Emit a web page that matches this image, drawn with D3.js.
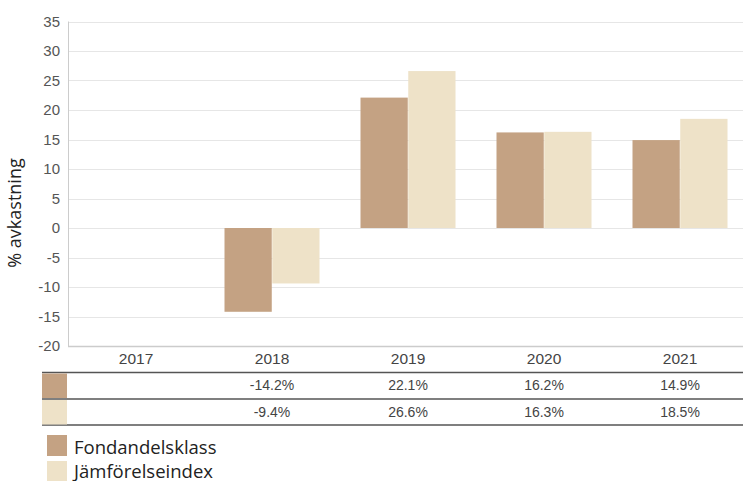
<!DOCTYPE html>
<html><head><meta charset="utf-8">
<script src="https://cdn.jsdelivr.net/npm/d3@7"></script>
<style>body{margin:0;background:#fff}svg{display:block}</style>
</head><body><svg id="c" width="744" height="481"></svg>
<script>
const categories = ["2017","2018","2019","2020","2021"];
const seriesNames = ["Fondandelsklass","Jämförelseindex"];
const fondValues = [null,-14.2,22.1,16.2,14.9];
const indexValues = [null,-9.4,26.6,16.3,18.5];
const yTicks = [-20,-15,-10,-5,0,5,10,15,20,25,30,35];
const colors = ["#c4a283","#eee2c8"];

const svg = d3.select("#c");
const plotL = 68, plotR = 743, plotT = 21.5, plotB = 346;
const y = d3.scaleLinear().domain([-20,35]).range([plotB, plotT]);
const x = d3.scaleBand().domain(categories).range([68, 748]);
const sub = d3.scaleBand().domain(seriesNames).range([0, 95]).paddingInner(0.01);
const series = [fondValues, indexValues];

// gridlines
svg.append("g").selectAll("line").data(yTicks.filter(d=>d>-20)).join("line")
  .attr("x1",plotL).attr("x2",plotR)
  .attr("y1",d=>Math.round(y(d))+0.5).attr("y2",d=>Math.round(y(d))+0.5)
  .attr("stroke","#e6e6e6").attr("stroke-width",1);

// y tick labels
const yAxis = d3.axisLeft(y).tickValues(yTicks).tickFormat(d=>String(d)).tickSize(0).tickPadding(8);
const ga = svg.append("g").attr("transform",`translate(${plotL},0)`).call(yAxis);
ga.select(".domain").remove();
ga.selectAll("text").attr("font-family","'Liberation Sans',Arial,sans-serif")
  .attr("font-size","15px").attr("fill","#555");

// bars
series.forEach((vals,si)=>{
  svg.append("g").selectAll("rect").data(categories.map((c,i)=>({c,v:vals[i]})).filter(d=>d.v!=null))
    .join("rect")
    .attr("x",d=>x(d.c)+x.bandwidth()/2-47.5+sub(seriesNames[si]))
    .attr("width",sub.bandwidth())
    .attr("y",d=>y(Math.max(0,d.v)))
    .attr("height",d=>Math.abs(y(d.v)-y(0)))
    .attr("fill",colors[si]);
});

// axes lines
svg.append("line").attr("x1",plotL+0.5).attr("x2",plotL+0.5).attr("y1",plotT).attr("y2",plotB)
  .attr("stroke","#cccccc");
svg.append("line").attr("x1",plotL).attr("x2",plotR).attr("y1",plotB+0.5).attr("y2",plotB+0.5)
  .attr("stroke","#cccccc").attr("stroke-width",1.5);

// category labels
const xAxis = d3.axisBottom(x).tickSize(0).tickPadding(6);
const gx = svg.append("g").attr("transform",`translate(0,${plotB+1})`).call(xAxis);
gx.select(".domain").remove();
gx.selectAll("text").attr("font-family","'Liberation Sans',Arial,sans-serif")
  .attr("font-size","15.5px").attr("fill","#444");

// y title
svg.append("text").attr("transform","translate(21,213) rotate(-90)")
  .attr("text-anchor","middle").attr("font-family","'Open Sans','Noto Sans',sans-serif")
  .attr("font-size","18px").attr("fill","#222").text("% avkastning");

// data table
const rowTop = [373, 399.5];
const rowH = 26;
[372.5, 399, 425].forEach(yy=>{
  svg.append("line").attr("x1",42).attr("x2",plotR).attr("y1",yy).attr("y2",yy)
    .attr("stroke","#555").attr("stroke-width",1.5);
});
series.forEach((vals,si)=>{
  svg.append("rect").attr("x",42).attr("y",rowTop[si]+0.5).attr("width",25).attr("height",rowH-1.5)
    .attr("fill",colors[si]);
  svg.append("g").selectAll("text").data(categories.map((c,i)=>({c,v:vals[i]})).filter(d=>d.v!=null))
    .join("text")
    .attr("x",d=>x(d.c)+x.bandwidth()/2)
    .attr("y",rowTop[si]+17)
    .attr("text-anchor","middle")
    .attr("font-family","'Liberation Sans',Arial,sans-serif")
    .attr("font-size","14px").attr("fill","#444")
    .text(d=>d.v.toFixed(1)+"%");
});

// legend
seriesNames.forEach((n,i)=>{
  svg.append("rect").attr("x",47).attr("y",435+i*26).attr("width",20).attr("height",21).attr("fill",colors[i]);
  svg.append("text").attr("x",74).attr("y",454+i*23.5)
    .attr("font-family","'Open Sans','Noto Sans',sans-serif")
    .attr("font-size","18.5px").attr("fill","#222").text(n);
});
</script></body></html>
